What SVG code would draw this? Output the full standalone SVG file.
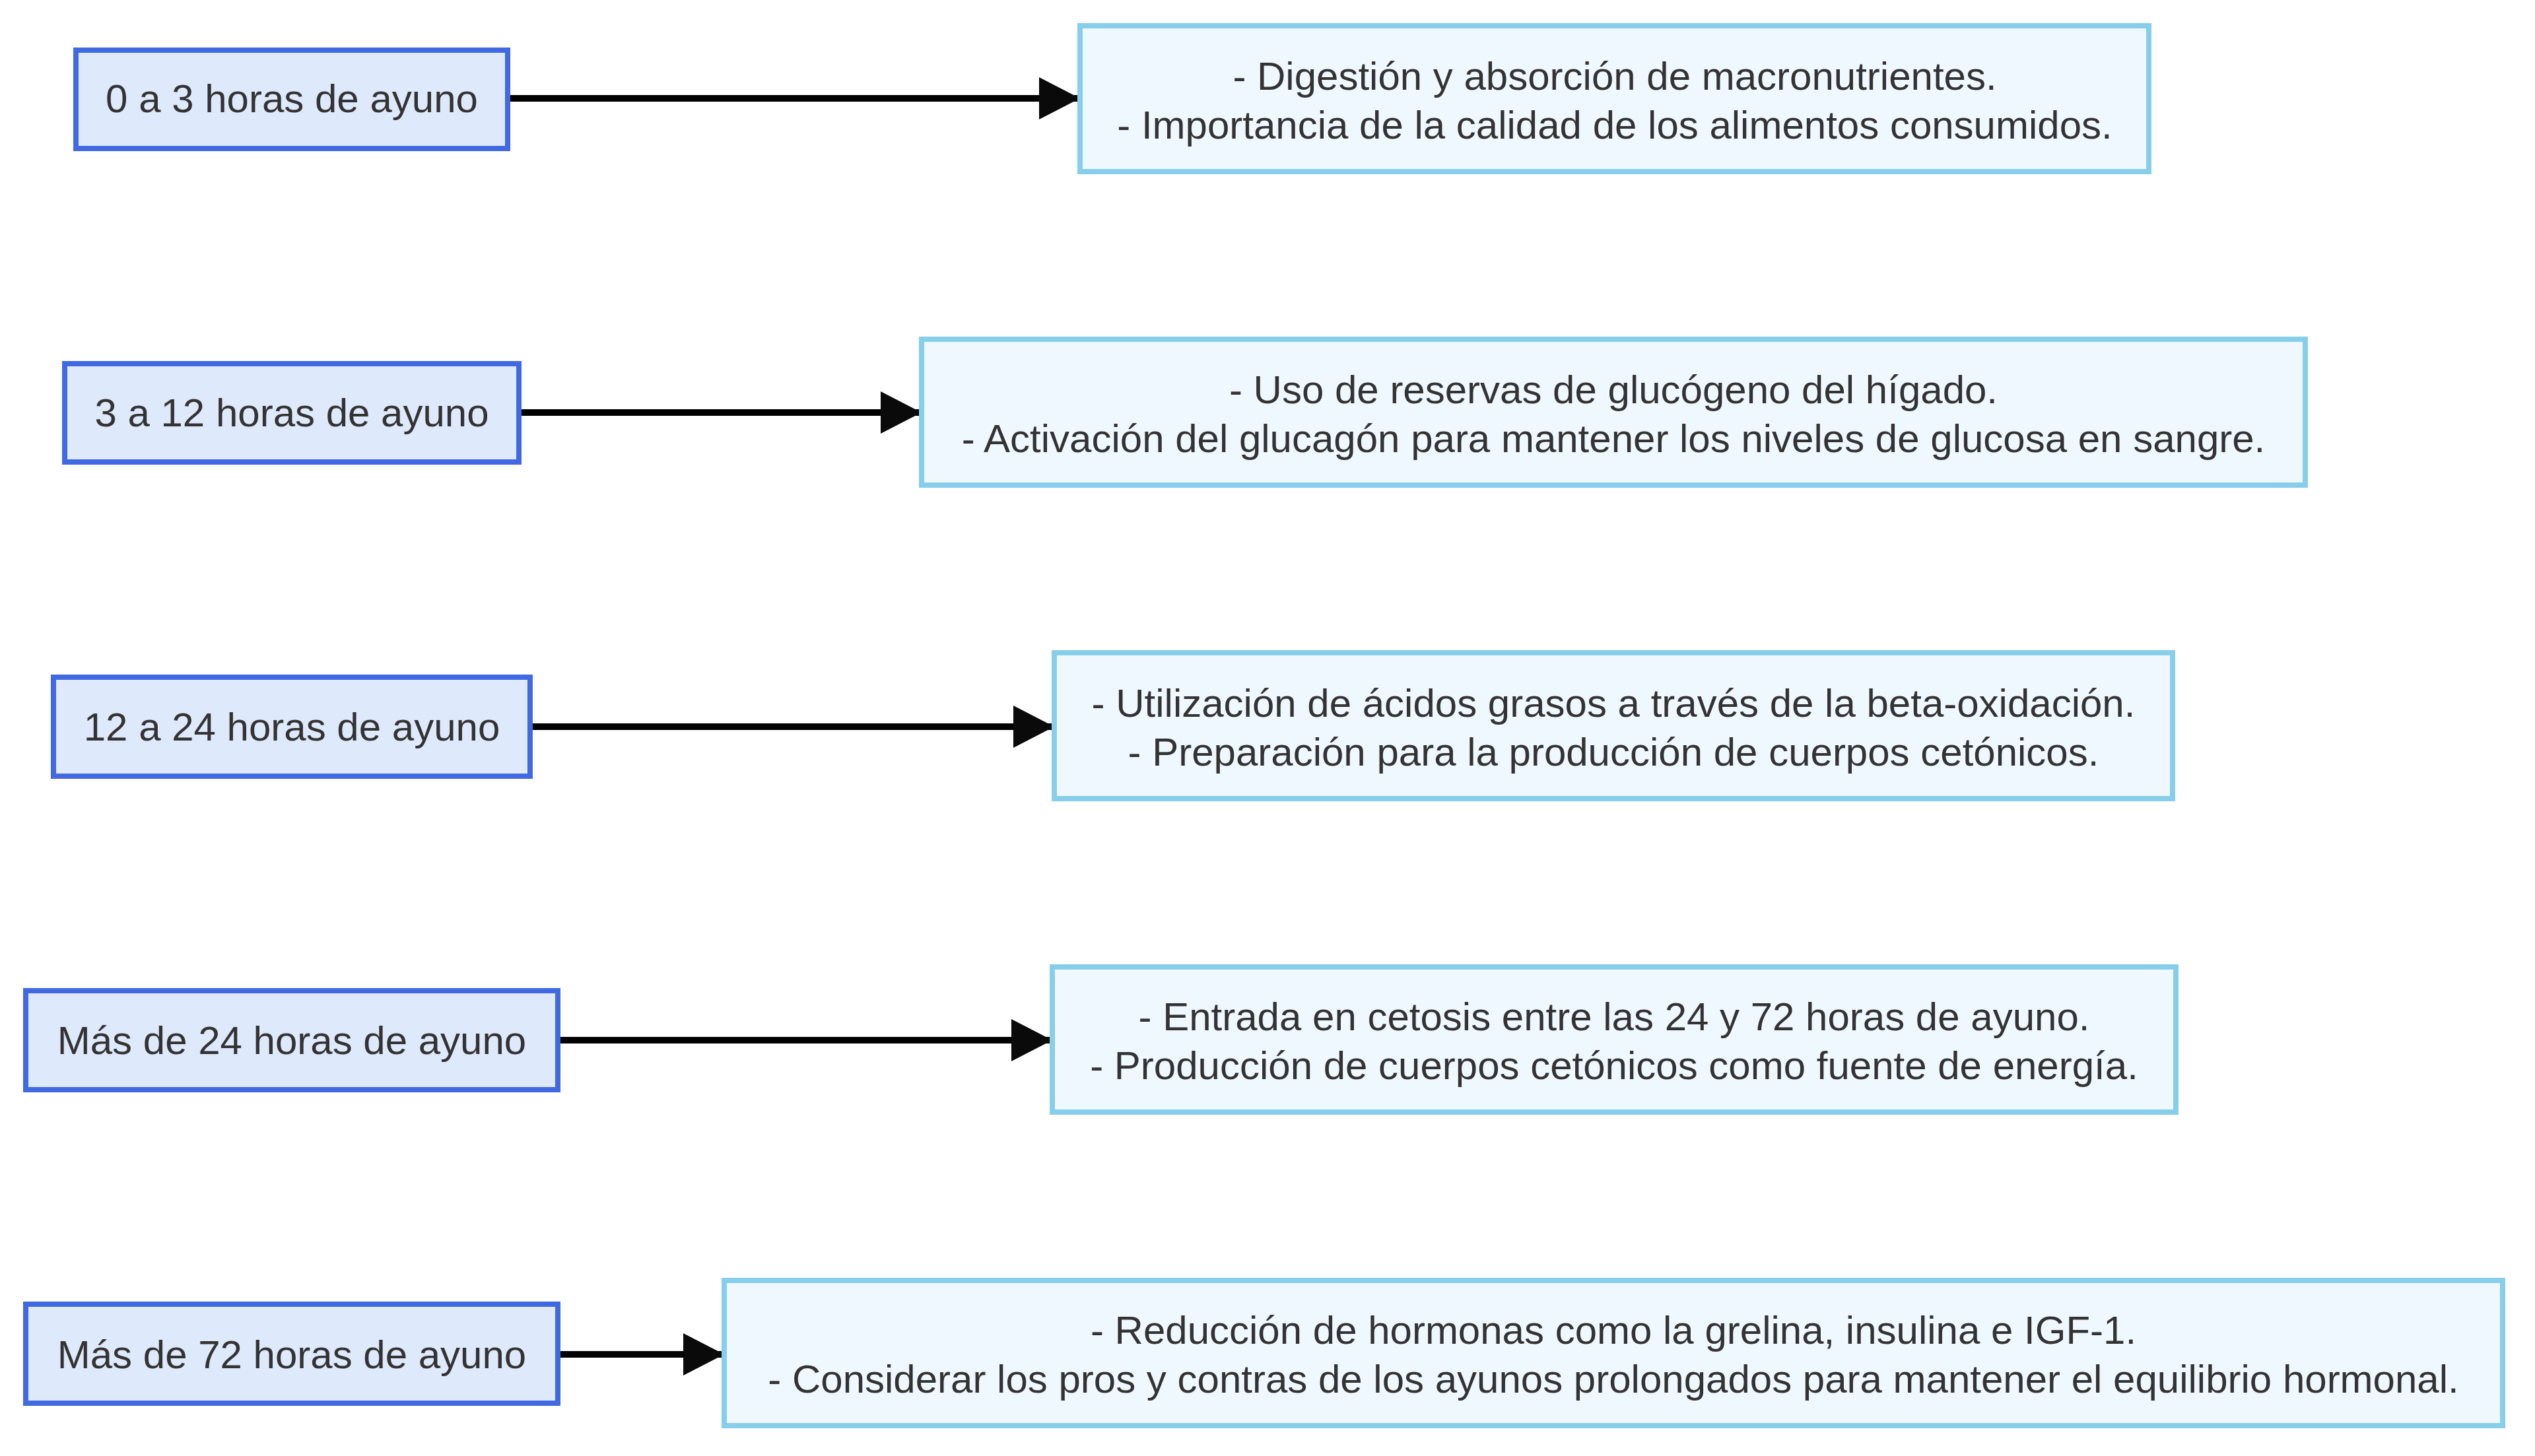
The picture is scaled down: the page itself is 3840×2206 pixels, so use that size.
<svg xmlns="http://www.w3.org/2000/svg" width="3840" height="2206" viewBox="0 0 3840 2206">
<style>
.l rect{fill:#dfe9fc;stroke:#4169e1;stroke-width:8}
.r rect{fill:#f0f8ff;stroke:#87ceeb;stroke-width:8}
text{font-family:"Liberation Sans",Arial,sans-serif;font-size:60px;fill:#333;text-anchor:middle}
.c line{stroke:#000;stroke-width:10}
</style>
<defs><marker id="a" markerUnits="userSpaceOnUse" markerWidth="62" markerHeight="64" refX="62" refY="32" orient="auto"><path d="M0,0L62,32L0,64Z" fill="#0a0a0a"/></marker></defs>
<rect width="3840" height="2206" fill="#fff"/>
<g class="c">
<line x1="769" y1="149" x2="1636" y2="149" marker-end="url(#a)"/>
<line x1="786" y1="625" x2="1396" y2="625" marker-end="url(#a)"/>
<line x1="803" y1="1101" x2="1597" y2="1101" marker-end="url(#a)"/>
<line x1="845" y1="1576" x2="1594" y2="1576" marker-end="url(#a)"/>
<line x1="845" y1="2052" x2="1097" y2="2052" marker-end="url(#a)"/>
</g>
<g id="n1" class="l"><rect x="115" y="76" width="654" height="149"/><text x="442" y="170">0 a 3 horas de ayuno</text></g>
<g id="n2" class="l"><rect x="98" y="551" width="688" height="149"/><text x="442" y="646">3 a 12 horas de ayuno</text></g>
<g id="n3" class="l"><rect x="81" y="1026" width="722" height="150"/><text x="442" y="1122">12 a 24 horas de ayuno</text></g>
<g id="n4" class="l"><rect x="39" y="1501" width="806" height="150"/><text x="442" y="1597">Más de 24 horas de ayuno</text></g>
<g id="n5" class="l"><rect x="39" y="1976" width="806" height="150"/><text x="442" y="2073">Más de 72 horas de ayuno</text></g>
<g id="d1" class="r"><rect x="1636" y="39" width="1619" height="221"/><text x="2446" y="136">- Digestión y absorción de macronutrientes.</text><text x="2446" y="210">- Importancia de la calidad de los alimentos consumidos.</text></g>
<g id="d2" class="r"><rect x="1396" y="514" width="2096" height="221"/><text x="2444" y="611">- Uso de reservas de glucógeno del hígado.</text><text x="2444" y="685">- Activación del glucagón para mantener los niveles de glucosa en sangre.</text></g>
<g id="d3" class="r"><rect x="1597" y="989" width="1694" height="221"/><text x="2444" y="1086">- Utilización de ácidos grasos a través de la beta-oxidación.</text><text x="2444" y="1160">- Preparación para la producción de cuerpos cetónicos.</text></g>
<g id="d4" class="r"><rect x="1594" y="1465" width="1702" height="220"/><text x="2445" y="1561">- Entrada en cetosis entre las 24 y 72 horas de ayuno.</text><text x="2445" y="1635">- Producción de cuerpos cetónicos como fuente de energía.</text></g>
<g id="d5" class="r"><rect x="1097" y="1940" width="2694" height="220"/><text x="2444" y="2036">- Reducción de hormonas como la grelina, insulina e IGF-1.</text><text x="2444" y="2110">- Considerar los pros y contras de los ayunos prolongados para mantener el equilibrio hormonal.</text></g>
</svg>
